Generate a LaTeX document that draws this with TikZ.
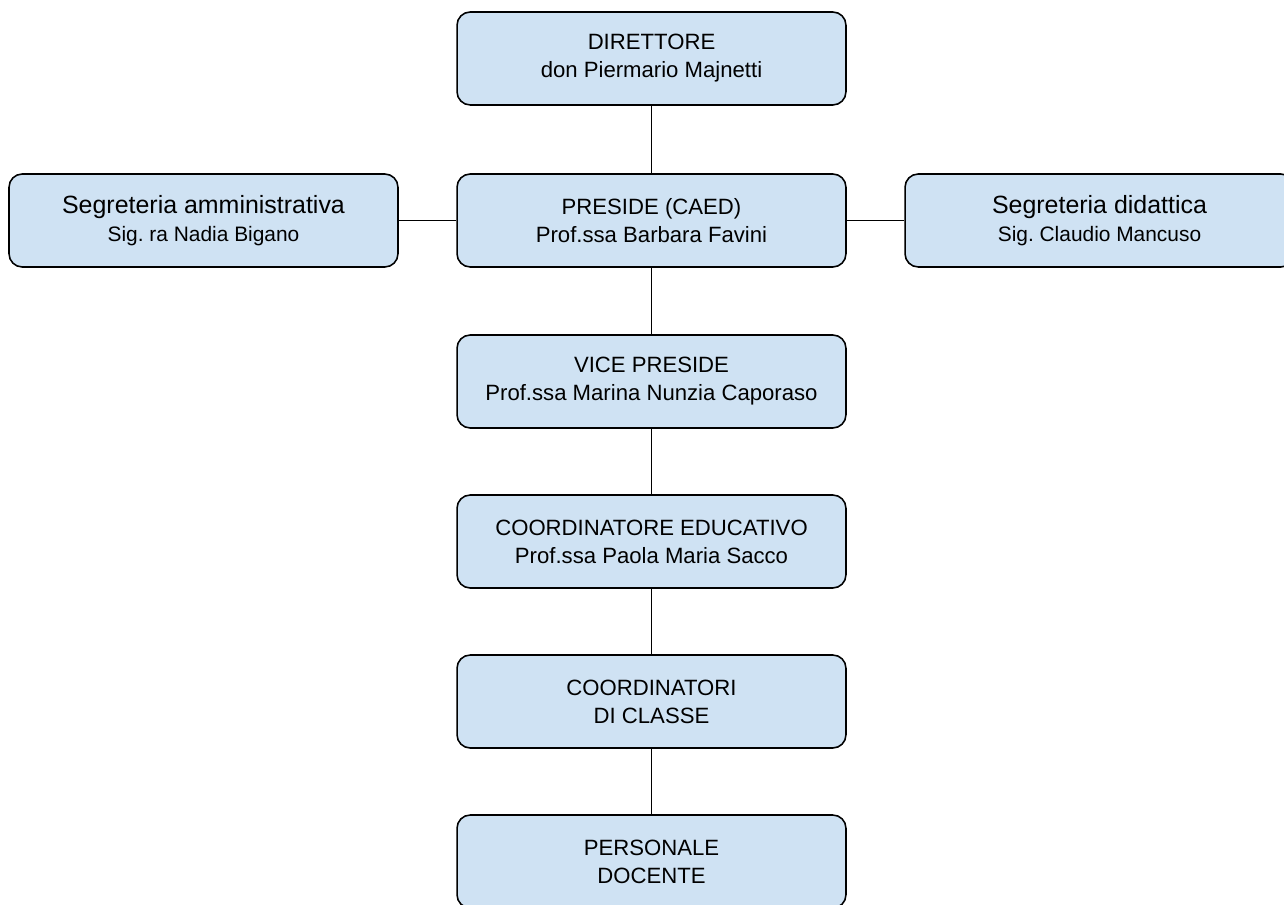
\documentclass[tikz,border=0pt]{standalone}
\usepackage{fontspec}
\setmainfont{Liberation Sans}
\frenchspacing
\definecolor{boxblue}{HTML}{CFE2F3}
\newcommand{\sidehead}[1]{{\fontsize{14.2}{16}\selectfont #1}}
\newcommand{\sidename}[1]{{\fontsize{11.9}{16}\selectfont #1}}
\tikzset{
	orgbox/.style={draw=black, fill=boxblue, rounded corners=7.5pt, line width=0.9pt,
		minimum width=7.78cm, minimum height=1.86cm, align=center,
		font=\fontsize{12.6}{16}\selectfont, inner sep=0pt},
	link/.style={line width=0.8pt}
}
\begin{document}
\begin{tikzpicture}[x=0.02cm,y=-0.02cm]
		\useasboundingbox (0,0) rectangle (1284,905);
		
		% top of the chart
		\node[orgbox] (dir) at (651.5,58.5) {DIRETTORE\\don Piermario Majnetti};
		\node[orgbox] (pres) at (651.5,220.5) {PRESIDE (CAED)\\Prof.ssa Barbara Favini};
		
		% the two offices beside the preside
		\node[orgbox] (segamm) at (203.5,220.5) {\sidehead{Segreteria amministrativa}\\\sidename{Sig. ra Nadia Bigano}};
		\node[orgbox] (segdid) at (1099.5,220.5) {\sidehead{Segreteria didattica}\\\sidename{Sig. Claudio Mancuso}};
		
		% the chain below
		\node[orgbox] (vice) at (651.5,381.5) {VICE PRESIDE\\Prof.ssa Marina Nunzia Caporaso};
		\node[orgbox] (coord) at (651.5,541.5) {COORDINATORE EDUCATIVO\\Prof.ssa Paola Maria Sacco};
		\node[orgbox] (coordcl) at (651.5,701.5) {COORDINATORI\\DI CLASSE};
		\node[orgbox] (doc) at (651.5,861.5) {PERSONALE\\DOCENTE};
		
		% connectors
		\draw[link] (dir) -- (pres);
		\draw[link] (segamm) -- (pres);
		\draw[link] (pres) -- (segdid);
		\draw[link] (pres) -- (vice);
		\draw[link] (vice) -- (coord);
		\draw[link] (coord) -- (coordcl);
		\draw[link] (coordcl) -- (doc);
		
	\end{tikzpicture}
\end{document}
